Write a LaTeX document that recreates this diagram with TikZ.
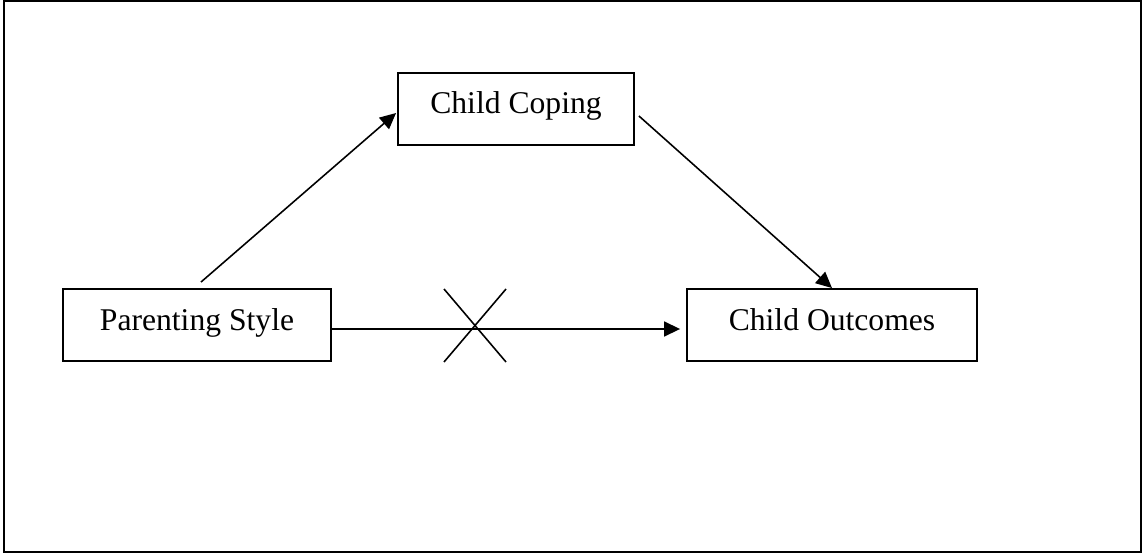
\documentclass[tikz,border=0pt]{standalone}
\usepackage{fontspec}
\setmainfont{Liberation Serif}
\usetikzlibrary{arrows.meta}
\tikzset{
  varbox/.style={draw, line width=1.1pt, inner sep=0pt, text height=0.82cm, text depth=0.62cm, font=\fontsize{18}{22}\selectfont},
  path/.style={line width=0.9pt, -{Triangle[length=0.32cm,width=0.3cm]}}
}
\newcommand{\cross}[4]{\draw[line width=0.9pt] ( #1 , #2 ) -- ( #3 , #4 ); \draw[line width=0.9pt] ( #3 , #2 ) -- ( #1 , #4 );}

\begin{document}
\begin{tikzpicture}[x=0.02cm, y=-0.02cm]
    \useasboundingbox (0,0) rectangle (1145,554);
    \draw[line width=1.2pt] (4,1) rectangle (1141,552);

    \node[varbox, minimum width=4.72cm] (coping) at (516,109) {Child Coping};
    \node[varbox, minimum width=5.36cm] (parent) at (197,325) {Parenting Style};
    \node[varbox, minimum width=5.8cm] (outcome) at (832,325) {Child Outcomes};

    \draw[path] ([xshift=0.08cm,yshift=0.12cm]parent.north) -- ([xshift=-0.02cm,yshift=-0.08cm]coping.west);
    \draw[path] ([xshift=0.08cm,yshift=-0.14cm]coping.east) -- (outcome.north);
    \draw[path] ([yshift=-0.08cm]parent.east) -- ([xshift=-0.12cm,yshift=-0.08cm]outcome.west);

    \cross{444}{289}{506}{362}
\end{tikzpicture}
\end{document}
